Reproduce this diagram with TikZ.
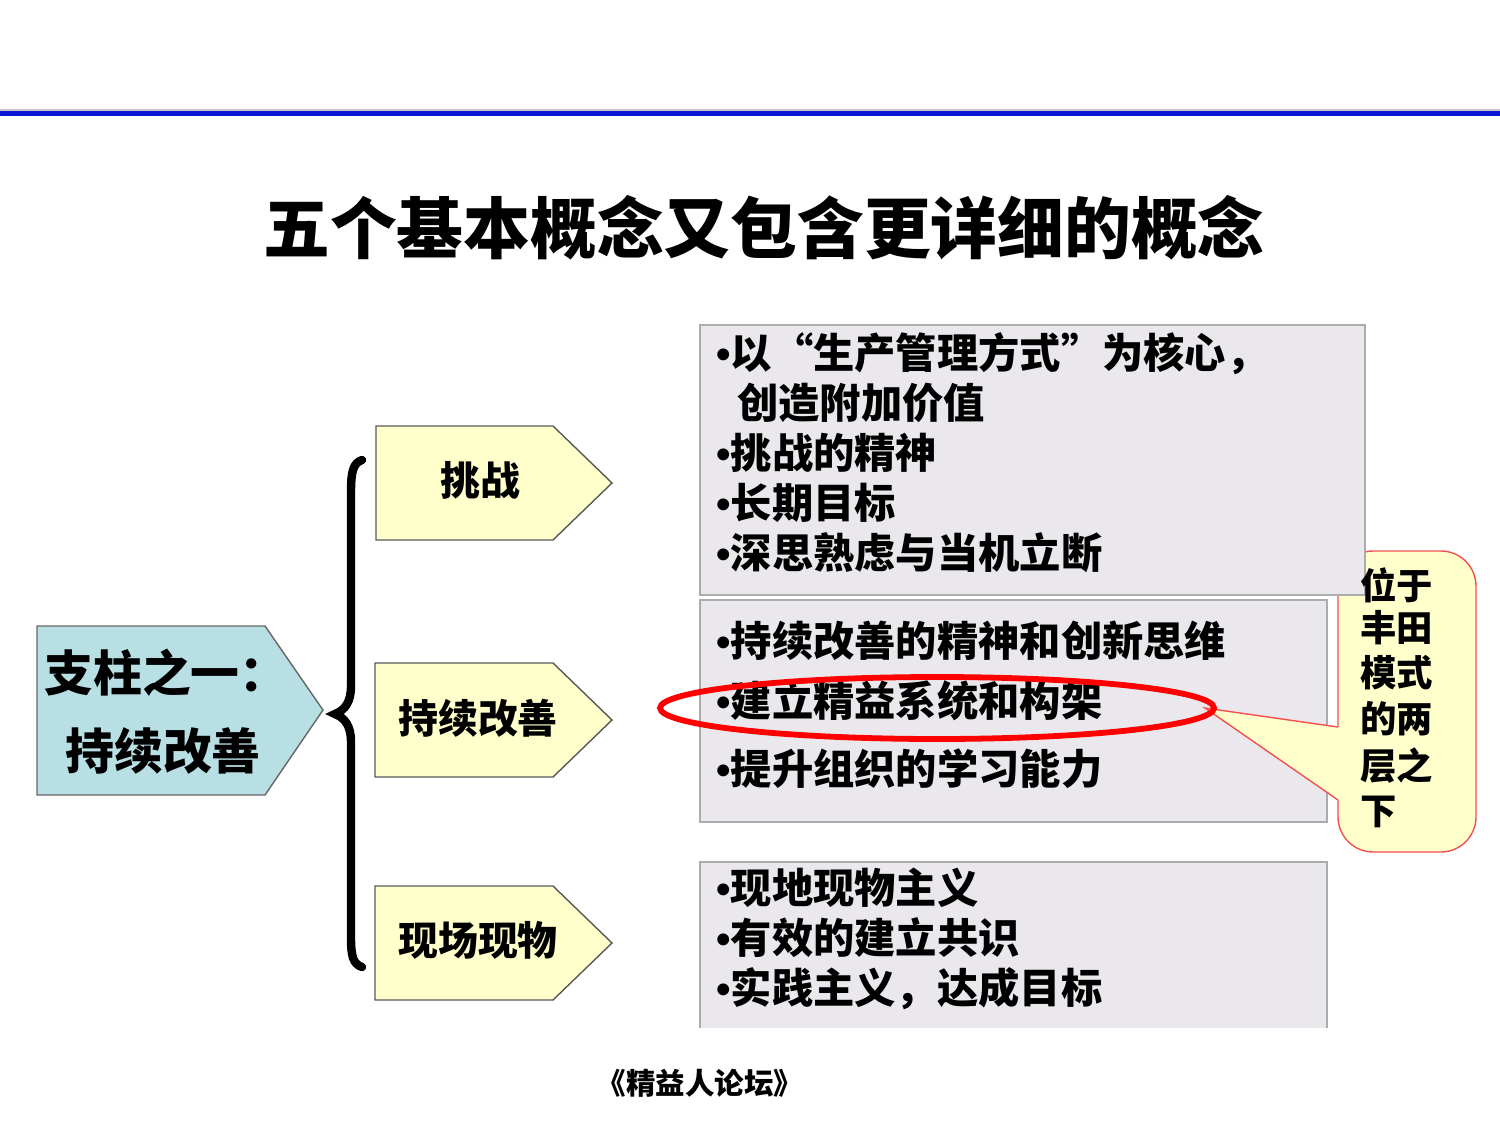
\documentclass[tikz,border=0pt]{standalone}
\usepackage{fontspec}
\setmainfont{Noto Sans CJK SC}
\newfontfamily\latin{Liberation Sans}
\definecolor{azulpilar}{RGB}{184,223,227}
\definecolor{amarillo}{RGB}{255,255,204}
\definecolor{grisfondo}{RGB}{234,232,236}
\definecolor{grisborde}{RGB}{172,172,172}
\definecolor{rojollamada}{RGB}{245,80,80}
\definecolor{azullinea}{RGB}{12,22,215}
\newcommand{\vin}{{\latin\char"2022}}
\tikzset{
  pilar/.style={fill=azulpilar,draw=gray!80!black,line width=.8pt},
  flecha/.style={fill=amarillo,draw=gray!70!black,line width=.8pt},
  caja/.style={fill=grisfondo,draw=grisborde,line width=1.2pt},
  llamada/.style={fill=amarillo,draw=rojollamada,line width=.8pt},
  item/.style={anchor=base west,inner sep=0pt,font=\fontsize{23.5}{28}\selectfont\bfseries},
  nota/.style={anchor=base west,inner sep=0pt,font=\fontsize{20.7}{25}\selectfont\bfseries},
  etiqueta/.style={inner sep=0pt,font=\fontsize{22.7}{27}\selectfont\bfseries}
}
\begin{document}
\begin{tikzpicture}[x=0.02cm,y=-0.02cm]
\useasboundingbox (0,0) rectangle (1500,1125);
% Linea superior
\draw[gray!45,line width=.6pt] (0,110) -- (1500,110);
\draw[azullinea,line width=2.6pt] (0,113.5) -- (1500,113.5);
% Titulo
\node[inner sep=0pt,font=\fontsize{38}{42}\selectfont\bfseries] (titulo) at (764,228) {五个基本概念又包含更详细的概念};
% Pilar
\draw[pilar] (37,626) -- (265,626) -- (323,710) -- (265,795) -- (37,795) -- cycle;
\node[anchor=base west,inner sep=0pt,font=\fontsize{27.8}{32}\selectfont\bfseries] (pilar1) at (44,691) {支柱之一：};
\node[anchor=base west,inner sep=0pt,font=\fontsize{27.8}{32}\selectfont\bfseries] (pilar2) at (65,769) {持续改善};
% Llave
\draw[line width=4.8pt,line cap=round] (362,460) .. controls (353,463) and (351,472) .. (351,492) -- (351,686)
  .. controls (351,702) and (345,710) .. (335,714) .. controls (345,718) and (351,726) .. (351,742)
  -- (351,938) .. controls (351,956) and (353,964) .. (362,967);
% Flechas amarillas
\draw[flecha] (376,426) -- (553,426) -- (612,483) -- (553,540) -- (376,540) -- cycle;
\draw[flecha] (375,663) -- (553,663) -- (612,720) -- (553,777) -- (375,777) -- cycle;
\draw[flecha] (375,886) -- (553,886) -- (612,943) -- (553,1000) -- (375,1000) -- cycle;
\node[etiqueta] (tiaozhan) at (480,480) {挑战};
\node[etiqueta] (gaishan) at (478,718) {持续改善};
\node[etiqueta] (xianchang) at (478,940) {现场现物};
% Cajas grises inferiores
\draw[caja] (700,600) rectangle (1327,822);
\fill[grisfondo] (700,862) rectangle (1327,1028);
\draw[grisborde,line width=1.2pt] (700,1028) -- (700,862) -- (1327,862) -- (1327,1028);
% Llamada (encima de la caja central, detras de la superior)
\draw[llamada,rounded corners=20] (1338,727) -- (1338,551) -- (1476,551) -- (1476,852) -- (1338,852) -- (1338,800);
\fill[amarillo] (1338,727) -- (1205,708) -- (1338,800) -- cycle;
\draw[llamada,fill=none] (1338,727) -- (1205,708) -- (1338,800);
% Caja gris superior
\draw[caja] (700,325) rectangle (1365,595);
% Textos de las cajas
\node[item] (a1) at (716,368) {\vin 以“生产管理方式”为核心，};
\node[item] (a2) at (737,418) {创造附加价值};
\node[item] (a3) at (716,468) {\vin 挑战的精神};
\node[item] (a4) at (716,518) {\vin 长期目标};
\node[item] (a5) at (716,568) {\vin 深思熟虑与当机立断};
\node[item] (b1) at (716,656) {\vin 持续改善的精神和创新思维};
\node[item] (b2) at (716,716) {\vin 建立精益系统和构架};
\node[item] (b3) at (716,784) {\vin 提升组织的学习能力};
\node[item] (c1) at (716,903) {\vin 现地现物主义};
\node[item] (c2) at (716,953) {\vin 有效的建立共识};
\node[item] (c3) at (716,1003) {\vin 实践主义，达成目标};
% Elipse roja
\draw[red,line width=3.3pt] (937,708) ellipse [x radius=277,y radius=31];
% Texto de la llamada
\node[nota] (n1) at (1360,599) {位于};
\node[nota] (n2) at (1360,641) {丰田};
\node[nota] (n3) at (1360,686) {模式};
\node[nota] (n4) at (1360,732) {的两};
\node[nota] (n5) at (1360,779) {层之};
\node[nota] (n6) at (1360,824) {下};
% Pie
\node[inner sep=0pt,font=\fontsize{16.8}{19}\selectfont\bfseries] (pie) at (700,1083) {《精益人论坛》};
\end{tikzpicture}
\end{document}
